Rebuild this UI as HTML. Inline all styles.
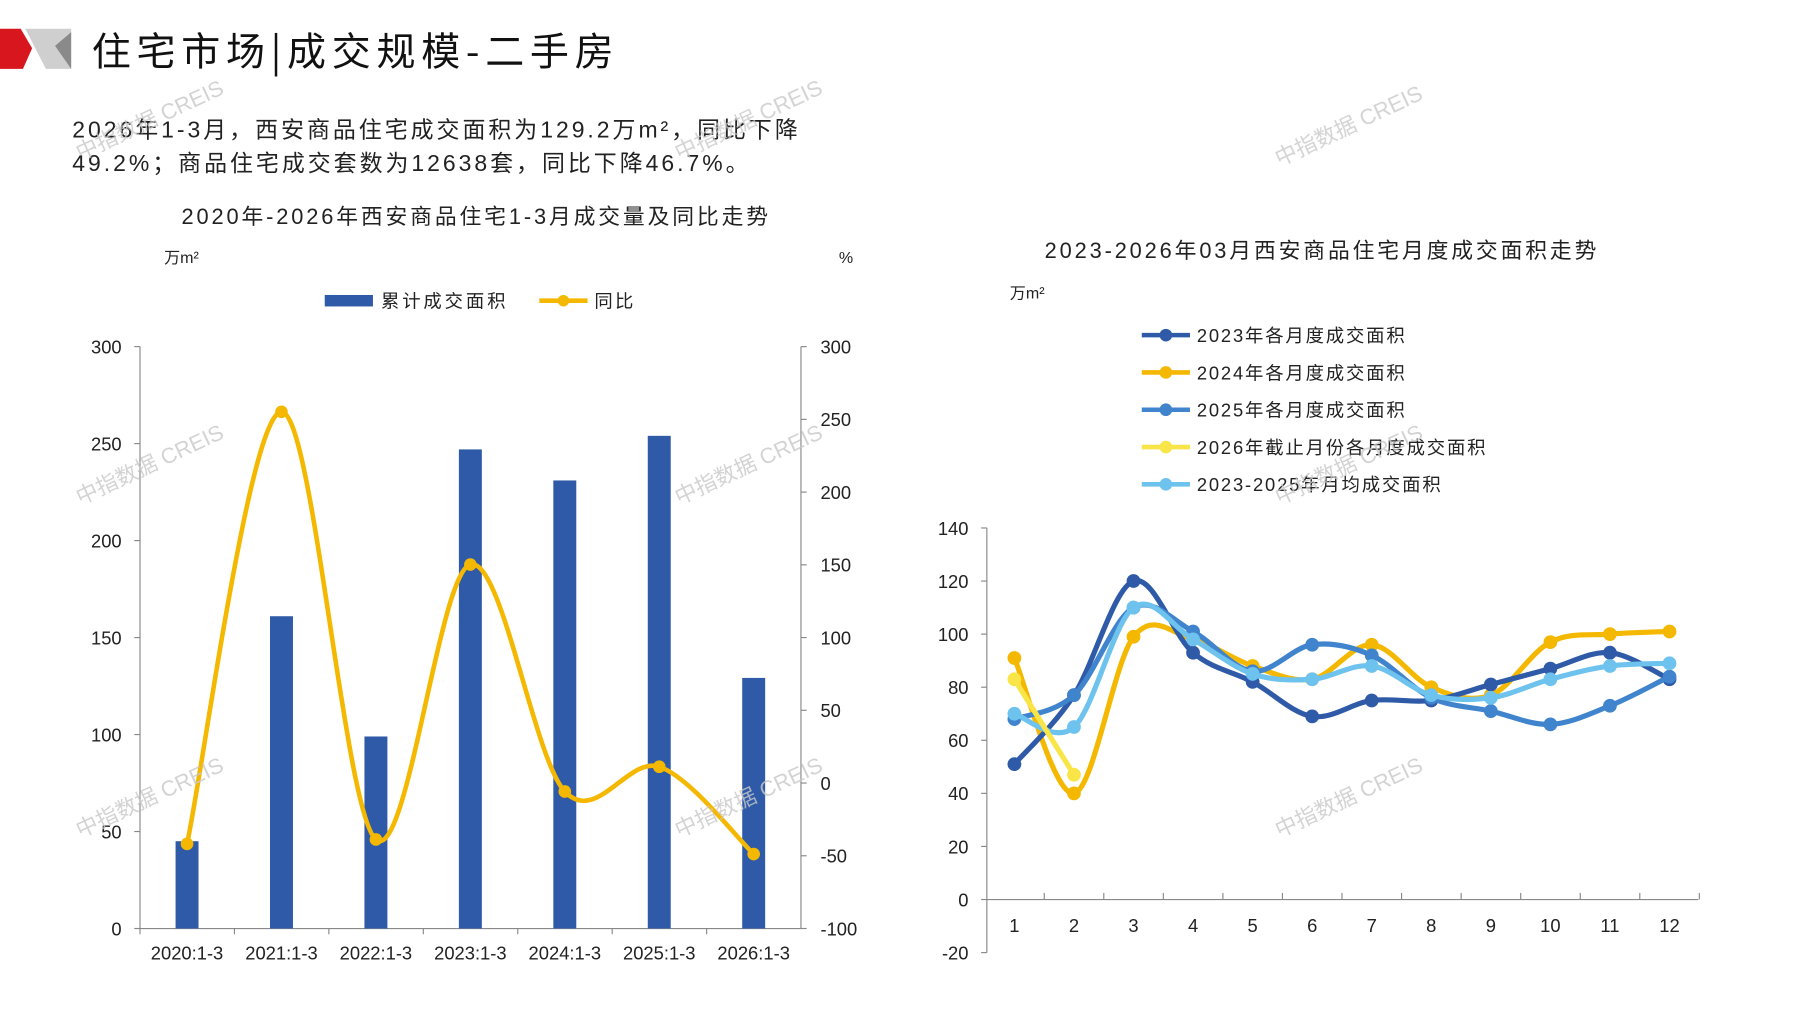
<!DOCTYPE html>
<html><head><meta charset="utf-8"><style>
html,body{margin:0;padding:0;background:#fff;}
svg{display:block;font-family:"Liberation Sans","Noto Sans CJK SC",sans-serif;}
</style></head><body>
<svg id="s" width="1797" height="1010" viewBox="0 0 1566 880" preserveAspectRatio="none" xmlns="http://www.w3.org/2000/svg">
<polygon points="0,25 18,25 28,42 20,60 0,60" fill="#d7161e"/>
<polygon points="22,25 62,25 62,60 40,60" fill="#cfcfcf"/>
<polygon points="48,40 62,28 62,60" fill="#8a8a8a"/>
<text x="80" y="57" font-size="34" fill="#111" letter-spacing="5" font-family="Noto Sans CJK SC,sans-serif">住宅市场|成交规模-二手房</text>
<text x="63" y="120" font-size="20" letter-spacing="2.6" fill="#222">2026年1-3月，西安商品住宅成交面积为129.2万m²，同比下降</text>
<text x="63" y="149" font-size="20" letter-spacing="2.6" fill="#222">49.2%；商品住宅成交套数为12638套，同比下降46.7%。</text>
<text x="415" y="195" font-size="19" letter-spacing="2.5" fill="#222" text-anchor="middle">2020年-2026年西安商品住宅1-3月成交量及同比走势</text>
<text x="143" y="229" font-size="14" fill="#222">万m²</text>
<text x="731" y="229" font-size="14" fill="#222">%</text>
<rect x="283" y="257" width="42" height="10" fill="#2e5aa8"/>
<text x="332" y="268" font-size="16" letter-spacing="2.5" fill="#222">累计成交面积</text>
<line x1="470" y1="262" x2="512" y2="262" stroke="#f5b800" stroke-width="4"/>
<circle cx="491" cy="262" r="5" fill="#f5b800"/>
<text x="518" y="268" font-size="16" letter-spacing="2" fill="#222">同比</text>
<g id="c1"></g>
<text x="1152" y="225" font-size="19" letter-spacing="2.5" fill="#222" text-anchor="middle">2023-2026年03月西安商品住宅月度成交面积走势</text>
<text x="880" y="260" font-size="14" fill="#222">万m²</text>
<g id="c2"></g>
<g id="wm" fill="#c8c8c8" font-size="19" opacity="0.8"></g>
</svg>
<script>
var NS="http://www.w3.org/2000/svg";
function el(p,t,a,txt){var e=document.createElementNS(NS,t);for(var k in a)e.setAttribute(k,a[k]);if(txt!=null)e.textContent=txt;p.appendChild(e);return e;}
function smooth(pts){var d="M"+pts[0][0]+","+pts[0][1];for(var i=0;i<pts.length-1;i++){var p0=pts[i-1]||pts[i],p1=pts[i],p2=pts[i+1],p3=pts[i+2]||p2;var t=6;d+=" C"+(p1[0]+(p2[0]-p0[0])/t)+","+(p1[1]+(p2[1]-p0[1])/t)+" "+(p2[0]-(p3[0]-p1[0])/t)+","+(p2[1]-(p3[1]-p1[1])/t)+" "+p2[0]+","+p2[1];}return d;}
var c1=document.getElementById("c1");
el(c1,"line",{x1:122,y1:302,x2:122,y2:809,stroke:"#888"});
el(c1,"line",{x1:698,y1:302,x2:698,y2:809,stroke:"#888"});
el(c1,"line",{x1:122,y1:809,x2:698,y2:809,stroke:"#888"});
for(var i=0;i<=6;i++){var y=809-i*84.5;el(c1,"line",{x1:117,y1:y,x2:122,y2:y,stroke:"#888"});el(c1,"text",{x:106,y:y+6,"font-size":16,"text-anchor":"end",fill:"#222"},String(i*50));}
for(var i=0;i<=8;i++){var y=809-i*63.375;el(c1,"line",{x1:698,y1:y,x2:703,y2:y,stroke:"#888"});el(c1,"text",{x:715,y:y+6,"font-size":16,fill:"#222"},String(-100+i*50));}
var bars=[45,161,99,247,231,254,129.2],pct=[-42,255,-39,150,-6,11,-49],labs=["2020:1-3","2021:1-3","2022:1-3","2023:1-3","2024:1-3","2025:1-3","2026:1-3"];
var pp=[];
for(var i=0;i<7;i++){var cx=163+i*82.3;var h=bars[i]*84.5/50;el(c1,"rect",{x:cx-10,y:809-h,width:20,height:h,fill:"#2e5aa8"});
el(c1,"line",{x1:122+i*82.3,y1:809,x2:122+i*82.3,y2:814,stroke:"#888"});
el(c1,"text",{x:cx,y:836,"font-size":16,"text-anchor":"middle",fill:"#222"},labs[i]);pp.push([cx,682-pct[i]*1.2675]);}
el(c1,"path",{d:smooth(pp),fill:"none",stroke:"#f5b800","stroke-width":4});
pp.forEach(function(p){el(c1,"circle",{cx:p[0],cy:p[1],r:5.5,fill:"#f5b800"});});
var c2=document.getElementById("c2");
el(c2,"line",{x1:860,y1:460,x2:860,y2:830,stroke:"#888"});
el(c2,"line",{x1:860,y1:783.75,x2:1480,y2:783.75,stroke:"#888"});
for(var i=0;i<=8;i++){var y=830-i*46.25;el(c2,"line",{x1:855,y1:y,x2:860,y2:y,stroke:"#888"});el(c2,"text",{x:844,y:y+6,"font-size":16,"text-anchor":"end",fill:"#222"},String(-20+i*20));}
for(var m=1;m<=12;m++){var x=884+(m-1)*51.9;el(c2,"line",{x1:x+26,y1:778,x2:x+26,y2:783.75,stroke:"#888"});el(c2,"text",{x:x,y:812,"font-size":16,"text-anchor":"middle",fill:"#222"},String(m));}
var S=[["2023年各月度成交面积","#2e5aa8",[51,77,120,93,82,69,75,75,81,87,93,83]],
["2024年各月度成交面积","#f5b800",[91,40,99,98,88,83,96,80,77,97,100,101]],
["2025年各月度成交面积","#3f84cc",[68,77,110,101,86,96,92,76,71,66,73,84]],
["2026年截止月份各月度成交面积","#f9e547",[83,47]],
["2023-2025年月均成交面积","#6ec3ee",[70,65,110,98,85,83,88,77,76,83,88,89]]];
var order=[1,0,2,4,3];
order.forEach(function(k){var s=S[k];var pts=s[2].map(function(v,i){return[884+i*51.9,783.75-v*2.3125];});
el(c2,"path",{d:smooth(pts),fill:"none",stroke:s[1],"stroke-width":4.5});pts.forEach(function(p){el(c2,"circle",{cx:p[0],cy:p[1],r:6,fill:s[1]});});});
S.forEach(function(s,i){var y=292+i*32.5;el(c2,"line",{x1:995,y1:y,x2:1037,y2:y,stroke:s[1],"stroke-width":4});el(c2,"circle",{cx:1016,cy:y,r:5.5,fill:s[1]});el(c2,"text",{x:1043,y:y+6,"font-size":16,"letter-spacing":1.6,fill:"#222"},s[0]);});
var wm=document.getElementById("wm");
[[70,140],[592,140],[1115,145],[70,440],[592,440],[1115,440],[70,730],[592,730],[1115,730]].forEach(function(p){el(wm,"text",{x:p[0],y:p[1],transform:"rotate(-25 "+p[0]+" "+p[1]+")"},"中指数据 CREIS");});
</script>
</body></html>
